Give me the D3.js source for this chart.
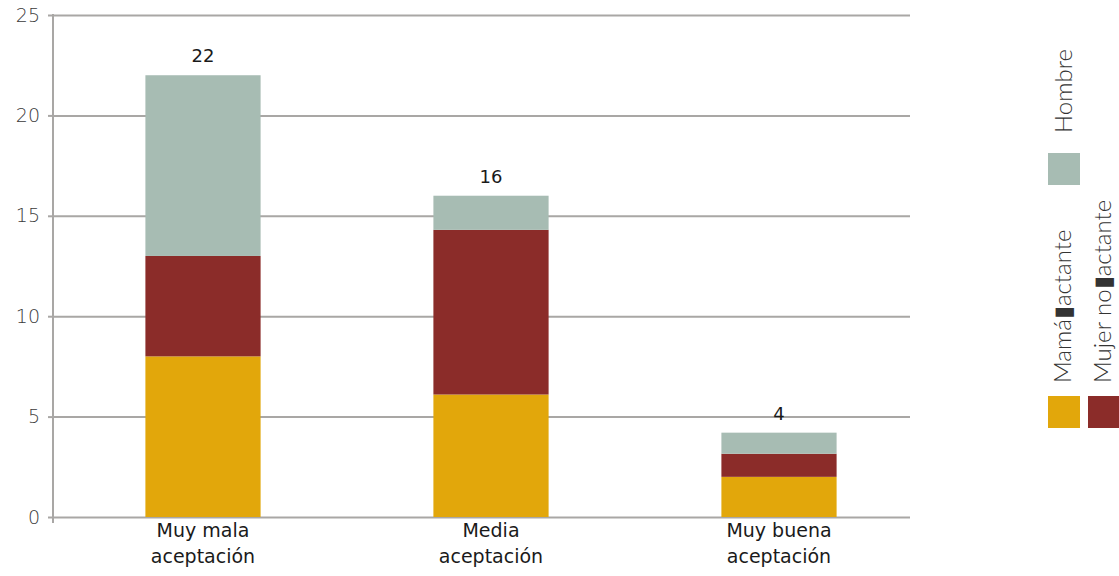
<!DOCTYPE html>
<html>
<head>
<meta charset="utf-8">
<script src="https://cdn.jsdelivr.net/npm/d3@7"></script>
<style>
  html, body { margin: 0; padding: 0; background: #fff; }
  svg { display: block; font-family: "DejaVu Sans", sans-serif; }
</style>
</head>
<body>
<svg id="chart" width="1119" height="576"></svg>
<script>
// ---- data ----
const categories = ["Muy mala aceptación", "Media aceptación", "Muy buena aceptación"];
const categoryLines = [["Muy mala", "aceptación"], ["Media", "aceptación"], ["Muy buena", "aceptación"]];
const seriesNames = ["Mamá lactante", "Mujer no lactante", "Hombre"];
const legendLabels = ["Mamá\u25AEactante", "Mujer no\u25AEactante", "Hombre"];
const mamaLactante = [8, 6.1, 2.0];
const mujerNoLactante = [5, 8.2, 1.15];
const hombre = [9, 1.7, 1.05];
const yTicks = [0, 5, 10, 15, 20, 25];
const colors = ["#e2a70b", "#8b2c29", "#a7bcb3"];

// ---- layout ----
const svg = d3.select("#chart");
const plotLeft = 53, plotRight = 910;
const y = d3.scaleLinear().domain([0, 25]).range([517, 15]);
const x = d3.scaleBand().domain(categories).range([59, 923]).paddingInner(0.6).paddingOuter(0.3);
const gridColor = "#a9a7a5";

// gridlines
const grid = svg.append("g").attr("transform", `translate(${plotLeft},0)`)
  .call(d3.axisLeft(y).tickValues(yTicks).tickSize(-(plotRight - plotLeft)).tickFormat(""));
grid.select(".domain").remove();
grid.selectAll(".tick line").attr("stroke", gridColor).attr("stroke-width", 2);

// y axis with ticks and labels
const yAxis = svg.append("g").attr("transform", `translate(${plotLeft},0)`)
  .call(d3.axisLeft(y).tickValues(yTicks).tickSize(5).tickSizeOuter(0).tickPadding(8));
yAxis.select(".domain").attr("stroke", gridColor).attr("stroke-width", 2)
  .attr("d", `M0,${y(25) - 1}V${y(0) + 6}`);
yAxis.selectAll(".tick line").attr("stroke", gridColor).attr("stroke-width", 2);
yAxis.selectAll(".tick text").attr("font-size", 19).attr("font-weight", 200)
  .attr("fill", "#3a3a3a").attr("font-family", "'DejaVu Sans', sans-serif");

// stacked bars
const rows = categories.map((c, i) => ({
  cat: c,
  "Mamá lactante": mamaLactante[i],
  "Mujer no lactante": mujerNoLactante[i],
  "Hombre": hombre[i]
}));
const stack = d3.stack().keys(seriesNames)(rows);
svg.append("g").selectAll("g").data(stack).join("g")
  .attr("fill", (d, i) => colors[i])
  .selectAll("rect").data(d => d).join("rect")
  .attr("x", d => x(d.data.cat))
  .attr("width", x.bandwidth())
  .attr("y", d => y(d[1]))
  .attr("height", d => y(d[0]) - y(d[1]));

// totals
const totals = rows.map(r => d3.sum(seriesNames, k => r[k]));
svg.append("g").selectAll("text").data(categories).join("text")
  .attr("x", d => x(d) + x.bandwidth() / 2)
  .attr("y", (d, i) => y(totals[i]) - 13)
  .attr("text-anchor", "middle")
  .attr("font-size", 18).attr("font-weight", 400).attr("fill", "#1a1a1a")
  .text((d, i) => d3.format(".0f")(totals[i]));

// x category labels
const xl = svg.append("g").selectAll("text").data(categories).join("text")
  .attr("x", d => x(d) + x.bandwidth() / 2)
  .attr("y", 537)
  .attr("text-anchor", "middle")
  .attr("font-size", 19).attr("font-weight", 400).attr("fill", "#1a1a1a");
xl.selectAll("tspan").data((d, i) => categoryLines[i]).join("tspan")
  .attr("x", function () { return d3.select(this.parentNode).attr("x"); })
  .attr("dy", (d, j) => j === 0 ? 0 : 26)
  .text(d => d);

// legend
const legendItems = [
  { label: legendLabels[2], color: colors[2], sx: 1048, sy: 153, tx: 1072, ty: 133 },
  { label: legendLabels[0], color: colors[0], sx: 1048, sy: 396, tx: 1071, ty: 383 },
  { label: legendLabels[1], color: colors[1], sx: 1088, sy: 396, tx: 1111, ty: 383 }
];
const lg = svg.append("g");
lg.selectAll("rect").data(legendItems).join("rect")
  .attr("x", d => d.sx).attr("y", d => d.sy)
  .attr("width", 32).attr("height", 32)
  .attr("fill", d => d.color);
lg.selectAll("text").data(legendItems).join("text")
  .attr("transform", d => `translate(${d.tx},${d.ty}) rotate(-90)`)
  .attr("font-family", "Lato, sans-serif")
  .attr("font-size", 24).attr("font-weight", 300).attr("fill", "#333")
  .text(d => d.label);
</script>
</body>
</html>
